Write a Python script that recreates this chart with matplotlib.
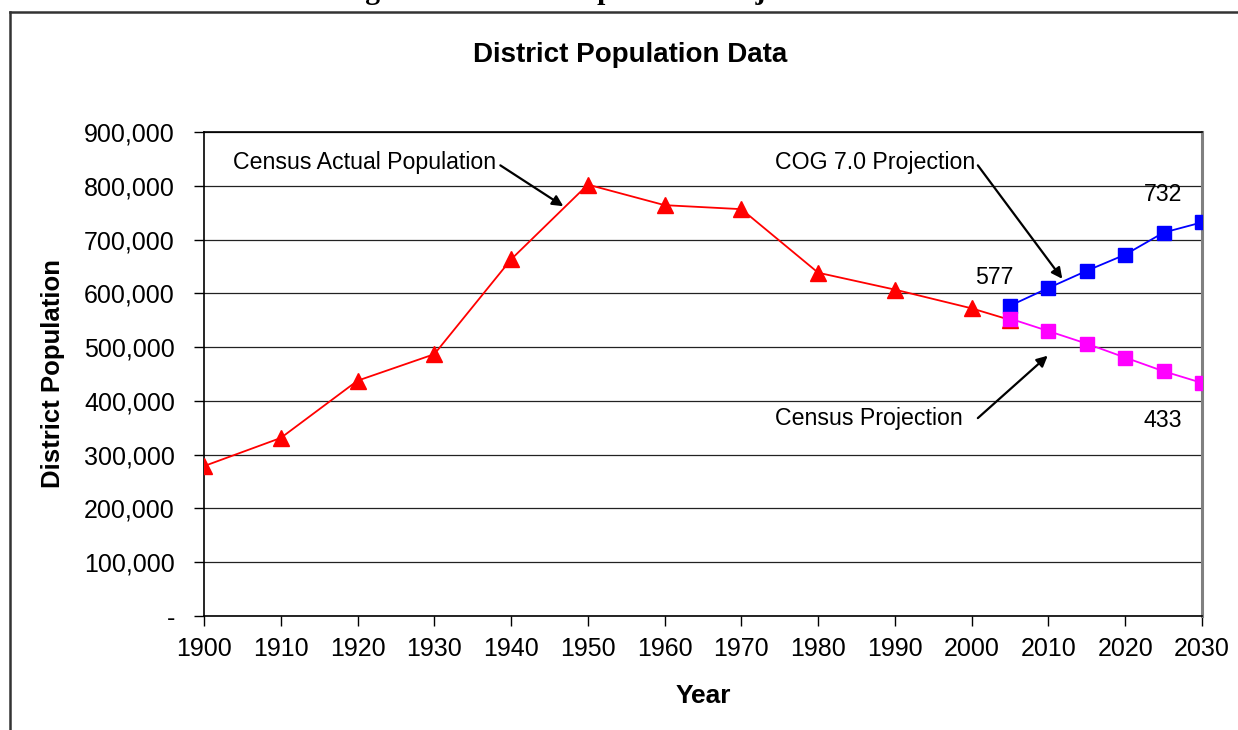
import matplotlib
matplotlib.use("Agg")
import matplotlib.pyplot as plt
from matplotlib.lines import Line2D
from matplotlib.ticker import FuncFormatter

plt.rcParams['font.family'] = ['Liberation Sans', 'DejaVu Sans']

# census actual population
actual_years = [1900, 1910, 1920, 1930, 1940, 1950, 1960, 1970, 1980, 1990, 2000, 2005]
actual_pop = [278718, 331069, 437571, 486869, 663091, 802178, 763956, 756510,
              638333, 606900, 572059, 550521]

# COG 7.0 projection
proj_years = [2005, 2010, 2015, 2020, 2025, 2030]
cog_pop = [577000, 610000, 642000, 672000, 713000, 732000]

# census projection
census_proj_pop = [553000, 529785, 506323, 480540, 455108, 433414]

x_ticks = list(range(1900, 2031, 10))
y_ticks = list(range(0, 900001, 100000))

W, H = 1238, 730
fig = plt.figure(figsize=(W / 100, H / 100), dpi=100)
ax = fig.add_axes([204 / W, 1 - 616 / H, (1202 - 204) / W, (616 - 132) / H])

ax.plot(actual_years, actual_pop, color="red", lw=1.3, marker="^", ms=11.5,
        markeredgecolor="red", zorder=3)
ax.plot(proj_years, cog_pop, color="blue", lw=1.3, marker="s", ms=10.5,
        markeredgecolor="blue", zorder=4)
ax.plot(proj_years, census_proj_pop, color="magenta", lw=1.3, marker="s", ms=10.5,
        markeredgecolor="magenta", zorder=4)

ax.set_xlim(1900, 2030)
ax.set_ylim(0, 900000)
ax.set_xticks(x_ticks)
ax.set_yticks(y_ticks)
ax.yaxis.set_major_formatter(FuncFormatter(lambda v, p: "-" if v == 0 else f"{int(v):,}"))
ax.tick_params(axis="both", labelsize=18, length=7, width=1, color="black", direction="out")
ax.tick_params(axis="x", pad=8)
ax.tick_params(axis="y", pad=14)
ax.grid(axis="y", color="#222222", lw=0.9)
ax.set_axisbelow(True)

for s in ("left", "bottom", "top"):
    ax.spines[s].set_color("black")
    ax.spines[s].set_linewidth(1.2)
ax.spines["right"].set_color("#808080")
ax.spines["right"].set_linewidth(2.2)

ax.set_xlabel("Year", fontsize=19, fontweight="bold", labelpad=17)
ax.set_ylabel("District Population", fontsize=18.5, fontweight="bold", labelpad=14)

# annotations
fs = 16.7
arrow = dict(arrowstyle="-|>", color="black", lw=1.6, mutation_scale=16, shrinkA=0, shrinkB=0)
ax.text(1903.8, 844000, "Census Actual Population", fontsize=fs, va="center", ha="left")
ax.annotate("", xy=(1946.8, 762000), xytext=(1938.6, 838000), arrowprops=arrow)
ax.text(1974.4, 844000, "COG 7.0 Projection", fontsize=fs, va="center", ha="left")
ax.annotate("", xy=(2011.8, 627000), xytext=(2000.8, 838000), arrowprops=arrow)
ax.text(1974.4, 368000, "Census Projection", fontsize=fs, va="center", ha="left")
ax.annotate("", xy=(2009.9, 484000), xytext=(2000.8, 368000), arrowprops=arrow)

ax.text(2003.0, 630000, f"{round(cog_pop[0] / 1000):d}", fontsize=fs, ha="center", va="center")
ax.text(2024.9, 783000, f"{round(cog_pop[-1] / 1000):d}", fontsize=fs, ha="center", va="center")
ax.text(2024.9, 364000, f"{round(census_proj_pop[-1] / 1000):d}", fontsize=fs, ha="center", va="center")

fig.text(630 / W, 1 - 55 / H, "District Population Data", fontsize=20, fontweight="bold",
         ha="center", va="center")

# caption of the page, cut off at the top
fig.text(339 / W, 1.002, "Figure 1: District Population Projections", fontsize=21.3,
         fontweight="bold", family=["Liberation Serif", "DejaVu Serif"], ha="left", va="baseline")

# outer frame (left and top edges)
fig.add_artist(Line2D([10 / W, 10 / W], [0, 1 - 12 / H], color="#333333", lw=1.8,
                      transform=fig.transFigure))
fig.add_artist(Line2D([10 / W, 1], [1 - 12 / H, 1 - 12 / H], color="#333333", lw=1.8,
                      transform=fig.transFigure))

fig.savefig("out.png", dpi=100)
